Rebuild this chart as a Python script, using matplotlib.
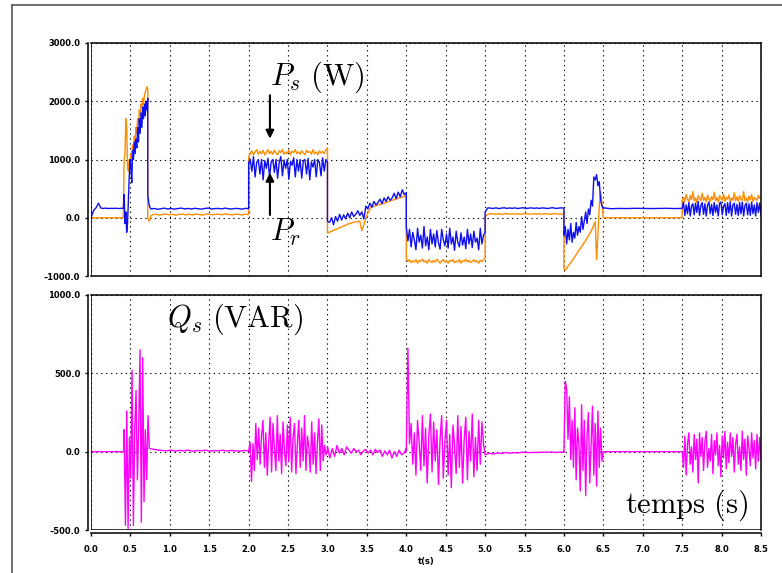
import numpy as np
import matplotlib
matplotlib.use("Agg")
import matplotlib.pyplot as plt
from matplotlib.lines import Line2D

plt.rcParams["mathtext.fontset"] = "cm"

# ----- data: (t_start, t_end, values) per segment

# P_r (blue, W)
pr_idle = (0.0, 0.41, [0, 120, 170, 250, 165, 160, 165, 158, 162, 160, 163, 158, 162, 160])
pr_start = (0.41, 0.72, [160, 400, -100, 100, -250, -100, 300, 700, 1000, 900, 600, 1150, 1000,
                         1300, 1100, 1350, 1200, 1550, 1300, 1700, 1450, 1800, 1550, 1900, 1700,
                         1950, 1750, 2000, 1850, 2050])
pr_drop = (0.72, 0.76, [400, 250, 180, 150])
pr_low1 = (0.76, 2.0, [150, 160, 145, 155, 165, 150, 160, 148, 158, 165, 152, 160, 150, 162, 155,
                       148, 160, 165, 150, 158, 160, 152, 165, 155, 150, 160, 158, 148, 162, 155])
pr_high = (2.0, 3.0, [950, 1000, 800, 1050, 700, 950, 1000, 750, 1000, 650, 980, 850, 1020, 700,
                      960, 1000, 780, 1000, 680, 950, 1050, 720, 990, 850, 1000, 660, 970, 900,
                      1030, 700, 1000, 800, 1000, 680, 980, 1000, 750, 1020, 650, 960, 870, 1000,
                      700, 1000, 950, 720, 1030, 800, 1000, 950])
pr_ramp = (3.0, 4.0, [-60, -80, 0, -120, 20, -60, 60, -40, 50, -20, 80, 0, 100, 20, 60, 120, 40,
                      100, -20, 200, 150, 250, 180, 280, 220, 260, 320, 240, 340, 280, 360, 300,
                      340, 420, 330, 440, 360, 480, 400, 430])
pr_neg = (4.0, 5.0, [-150, -400, -200, -500, -250, -380, -550, -180, -420, -300, -520, -150, -480,
                     -330, -550, -200, -450, -280, -500, -220, -430, -540, -200, -380, -480, -280,
                     -520, -180, -450, -330, -560, -230, -420, -500, -260, -470, -330, -530, -200,
                     -450, -280, -510, -230, -420, -350, -550, -180, -450, -300, -250])
pr_low2 = (5.0, 6.0, [100, 170, 165, 160, 170, 158, 165, 172, 160, 168, 162, 170, 158, 166, 172,
                      160, 165, 170, 162, 168, 160, 170, 165, 158, 168, 172, 160, 165, 170, 165])
pr_trans = (6.0, 6.5, [-300, -150, -450, -200, -380, -100, -420, -250, -350, -80, -300, -150,
                       -250, 20, -200, -50, 100, -100, 150, 50, 300, 200, 700, 650, 740, 550,
                       620, 300, 200, 160])
pr_low3 = (6.5, 7.5, [170, 155, 160, 158, 162, 160, 158, 160, 162, 158, 160])
pr_end = (7.5, 8.5, [160, 270, 40, 220, 70, 260, 30, 200, 240, 50, 250, 90, 280, 40, 210, 260, 60,
                     240, 30, 220, 270, 70, 230, 40, 260, 90, 220, 30, 250, 270, 50, 200, 240, 40,
                     260, 80, 270, 30, 220, 250, 60, 230, 40, 260, 70, 270, 30, 210, 250, 50, 240,
                     40, 270, 70, 220, 30, 260, 90, 250, 50])

# P_s (orange, W)
ps_idle = (0.0, 0.41, [0, 0])
ps_start = (0.41, 0.72, [0, 1000, 1100, 1700, 1550, 900, 800, 1000, 850, 1100, 1000, 1250, 1150,
                         1400, 1300, 1550, 1450, 1700, 1600, 1850, 1750, 1950, 1900, 2050, 1950,
                         2100, 2150, 2200, 2250, 2200])
ps_drop = (0.72, 0.78, [0, -60, 30, 50])
ps_low1 = (0.78, 2.0, [50, 60, 45, 55, 65, 50, 60, 45, 58, 65, 50, 60, 48, 62, 55, 45, 60, 65, 50,
                       58, 60, 52, 65, 55, 50, 60, 58, 48, 62, 55])
ps_high = (2.0, 3.0, [1050, 1100, 1150, 1080, 1130, 1170, 1090, 1140, 1100, 1160, 1080, 1120, 1170,
                      1100, 1140, 1090, 1160, 1110, 1080, 1150, 1120, 1170, 1090, 1130, 1100, 1160,
                      1080, 1140, 1120, 1170, 1100, 1130, 1090, 1150, 1110, 1080, 1160, 1120, 1140,
                      1090, 1170, 1100, 1130, 1080, 1150, 1110, 1140, 1100, 1160, 1200])
ps_ramp = (3.0, 4.0, [-260, -250, -230, -220, -200, -190, -170, -160, -140, -130, -110, -100, -90,
                      -80, -70, -65, -60, -220, -120, 0, 80, 150, 200, 190, 210, 220, 230, 240,
                      250, 260, 275, 285, 300, 310, 320, 335, 345, 355, 370, 380])
ps_neg = (4.0, 5.0, [-700, -750, -720, -770, -740, -760, -720, -780, -730, -750, -710, -760, -740,
                     -780, -720, -750, -770, -730, -760, -710, -750, -780, -740, -720, -760, -740,
                     -780, -730, -750, -720, -770, -740, -760, -720, -780, -740, -750, -710, -760,
                     -730, -770, -750, -720, -760, -740, -780, -730, -750, -720, -700])
ps_low2 = (5.0, 6.0, [20, 60, 70, 65, 60, 70, 58, 65, 72, 60, 68, 62, 70, 58, 66, 72, 60, 65, 70,
                      62, 68, 60, 70, 65, 58, 68, 72, 60, 65, 65])
ps_trans = (6.0, 6.5, [-880, -900, -870, -830, -800, -770, -740, -700, -670, -630, -600, -560,
                       -530, -490, -460, -420, -390, -350, -310, -270, -230, -180, -120, -70,
                       -720, -300, 200, 450, 250, 0])
ps_low3 = (6.5, 7.5, [0, 0])
ps_end = (7.5, 8.5, [300, 350, 280, 400, 320, 270, 380, 310, 450, 290, 340, 260, 380, 330, 290,
                     420, 300, 350, 270, 390, 320, 280, 360, 310, 440, 290, 350, 270, 380, 330,
                     300, 410, 280, 350, 320, 390, 270, 340, 300, 430, 290, 360, 280, 380, 320,
                     300, 450, 290, 340, 270, 370, 310, 400, 280, 350, 320, 300, 380, 330, 350])

# Q_s (magenta, VAR)
qs_idle = (0.0, 0.42, [0, 0])
qs_start = (0.42, 0.74, [140, -470, 260, -490, 90, -170, 520, -470, 140, 390, -180, 150, 650,
                         -450, 600, -320, 140, -180, 230, 20])
qs_low1 = (0.74, 2.0, [20, 15, 10, 8, 5, 10, 3, 8, 5, 10, 2, 8, 5, 10, 3, 7, 5, 9, 4, 8, 5, 3, 8, 5])
qs_high = (2.0, 3.0, [0, 60, -190, 50, -120, 180, -50, 150, -80, 100, 200, -100, 120, -150, 60,
                      220, -130, 180, 20, -120, 230, -60, 110, -140, 190, 0, -90, 170, -60, 220,
                      -130, 90, 180, -140, 50, 200, -100, 150, -60, 230, -120, 100, 30, -130, 190,
                      -80, 120, -140, 60, 210, -120, 170, -60, 40, -20, 10])
qs_ramp = (3.0, 4.0, [30, -40, 20, -30, 40, -10, 20, -20, 30, 10, -10, 20, 0, 10, -20, 5, 15, -10,
                      10, -20, 15, -5, 10, -30, 5, -20, 10, -40, 0, -30, 10, -20, -10, 20])
qs_neg = (4.0, 5.0, [0, 660, 50, 180, -80, 120, -150, 200, 60, -120, 230, -90, 150, -200, 100, 240,
                     -130, 190, -60, 140, -210, 80, 230, -170, 60, 200, -150, 110, -230, 170, 40,
                     -140, 230, -100, 160, -200, 80, 220, -180, 130, -60, 240, -160, 90, -120,
                     200, -80, 190, 50, -20])
qs_low2 = (5.0, 6.0, [-20, -10, -15, -8, -12, -5, -10, -6, -8, -3, -5, -6, -4, -5, -3, -4, -2, -5,
                      -3, -4])
qs_trans = (6.0, 6.5, [0, 450, 400, 80, 350, -50, 200, -100, 280, -180, 150, 50, -250, 300, -120,
                       200, -280, 100, 250, -200, 50, 290, -150, 180, -220, 260, -100, 150, -60, 0])
qs_low3 = (6.5, 7.5, [0, 0])
qs_end = (7.5, 8.5, [0, -100, 100, -150, 50, 120, -80, 30, -130, 110, -50, 80, -200, 120, -30, 90,
                     -120, 60, 130, -100, 20, -60, 110, -140, 70, -20, 120, -90, 40, -160, 100, -40,
                     130, -110, 60, -70, 120, -30, 90, -130, 50, 110, -80, 30, -120, 130, -50, 80,
                     -150, 100, 20, -90, 120, -40, 70, -110, 110, -60, 90, -50])

pr_segments = [pr_idle, pr_start, pr_drop, pr_low1, pr_high, pr_ramp, pr_neg, pr_low2,
               pr_trans, pr_low3, pr_end]
ps_segments = [ps_idle, ps_start, ps_drop, ps_low1, ps_high, ps_ramp, ps_neg, ps_low2,
               ps_trans, ps_low3, ps_end]
qs_segments = [qs_idle, qs_start, qs_low1, qs_high, qs_ramp, qs_neg, qs_low2, qs_trans,
               qs_low3, qs_end]

x_ticks = np.arange(0.0, 8.51, 0.5)
top_yticks = [-1000, 0, 1000, 2000, 3000]
bot_yticks = [-500, 0, 500, 1000]


def build(segments):
    t, v = [], []
    for t0, t1, vals in segments:
        t.extend(np.linspace(t0, t1, len(vals)))
        v.extend(vals)
    return np.array(t), np.array(v, dtype=float)


# ----- rendering -----------------------------------------------------------

W, H = 782, 573
fig = plt.figure(figsize=(W / 100, H / 100), dpi=100)
ax1 = fig.add_axes([91 / W, 1 - 276 / H, 670 / W, 233 / H])
ax2 = fig.add_axes([91 / W, 1 - 530 / H, 670 / W, 235 / H])

tick_font = dict(family="DejaVu Sans", weight="bold", size=6)


def style(ax, ylim, yticks):
    # spine offsets first: set_position rebuilds the ticks
    ax.spines["left"].set_position(("outward", 2.2))
    if ax is ax2:
        ax.spines["bottom"].set_position(("outward", 2.4))
    for s in ax.spines.values():
        s.set_linewidth(1.1)
    ax.set_xlim(0, 8.5)
    ax.set_ylim(*ylim)
    ax.set_xticks(x_ticks)
    ax.tick_params(axis="y", direction="out", length=2.5, width=1, pad=3)
    ax.set_yticks(yticks)
    ax.set_yticklabels([f"{y:.1f}".replace("-", "\u2013") for y in yticks], **tick_font)
    ax.grid(True, color="black", linestyle=(0, (1.2, 3.2)), linewidth=0.8)
    ax.axvline(0, color="black", lw=1.1, zorder=5)


style(ax1, (-1000, 3000), top_yticks)
style(ax2, (-500, 1000), bot_yticks)
ax1.tick_params(axis="x", length=0, labelbottom=False)
ax2.axhline(-500, color="black", lw=1.1, zorder=5)
ax2.tick_params(axis="x", direction="out", length=2.5, width=1, pad=6)
ax2.set_xticklabels([f"{x:.1f}" for x in x_ticks], **tick_font)
ax2.set_xlabel("t(s)", labelpad=2, **tick_font)

t_ps, v_ps = build(ps_segments)
t_pr, v_pr = build(pr_segments)
t_qs, v_qs = build(qs_segments)
ax1.plot(t_ps, v_ps, color="#ff8c00", lw=1.0)
ax1.plot(t_pr, v_pr, color="#1010ee", lw=1.0)
ax2.plot(t_qs, v_qs, color="#ff00ff", lw=1.0)

ax1.text(2.27, 2280, r"$P_s\ \mathrm{(W)}$", fontsize=22, va="baseline")
ax1.text(2.27, -400, r"$P_r$", fontsize=22, va="baseline")
ax1.annotate("", xy=(2.27, 1310), xytext=(2.27, 2150),
             arrowprops=dict(arrowstyle="-|>", color="black", lw=1.5, mutation_scale=12))
ax1.annotate("", xy=(2.27, 820), xytext=(2.27, 0),
             arrowprops=dict(arrowstyle="-|>", color="black", lw=1.5, mutation_scale=12))
ax2.text(0.96, 800, r"$Q_s\ \mathrm{(VAR)}$", fontsize=22, va="baseline")
ax2.text(8.34, -393, r"$\mathrm{temps\ (s)}$", fontsize=22, va="baseline", ha="right")

# outer frame (left and top only)
fig.add_artist(Line2D([12 / W, 12 / W], [0, 1 - 5 / H], transform=fig.transFigure,
                      color="#555555", lw=1.2))
fig.add_artist(Line2D([12 / W, 1], [1 - 5 / H, 1 - 5 / H], transform=fig.transFigure,
                      color="#555555", lw=1.2))

fig.savefig("out.png", dpi=100)
